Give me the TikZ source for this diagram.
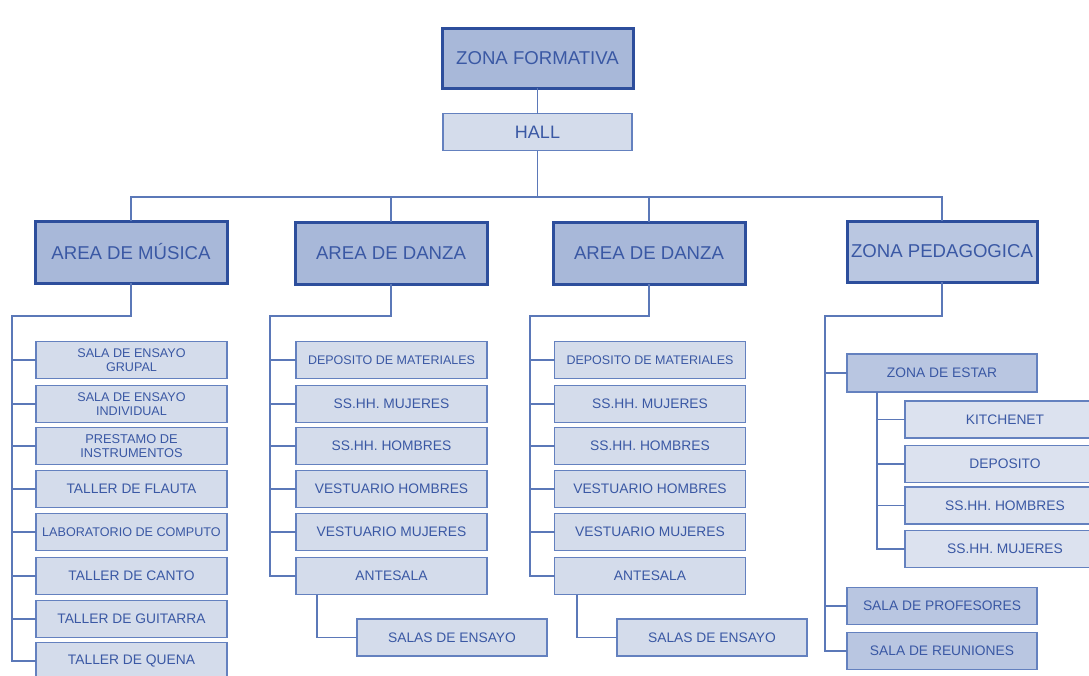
\documentclass[tikz,border=0pt]{standalone}
\usepackage{fontspec}
\setmainfont{Liberation Sans}
\definecolor{txt}{HTML}{3A58A4}
\definecolor{topfill}{HTML}{A8B8D9}
\definecolor{topline}{HTML}{2D4E9C}
\definecolor{zpfill}{HTML}{BAC7E1}
\definecolor{leaffill}{HTML}{D4DCEB}
\definecolor{leafline}{HTML}{6481BF}
\definecolor{midfill}{HTML}{B9C6E1}
\definecolor{subfill}{HTML}{DCE2EF}
\definecolor{connc}{HTML}{5B78B8}
\begin{document}
\begin{tikzpicture}[x=1pt,y=-1pt,
  base/.style={rectangle, inner sep=0pt, outer sep=0pt, align=center, text=txt,
    font=\fontsize{13.8}{16}\selectfont},
  topbox/.style={base, fill=topfill, draw=topline, line width=3pt,
    minimum width=191pt, minimum height=62pt, font=\fontsize{18.6}{21}\selectfont},
  zpbox/.style={topbox, fill=zpfill},
  hallbox/.style={base, fill=leaffill, draw=leafline, line width=1.4pt,
    minimum width=189pt, minimum height=37pt, font=\fontsize{18}{20}\selectfont},
  leaf/.style={base, fill=leaffill, draw=leafline, line width=1.4pt,
    minimum width=191pt, minimum height=37pt},
  twoline/.style={leaf, font=\fontsize{12.6}{14.5}\selectfont},
  midbox/.style={leaf, fill=midfill, minimum width=190pt},
  subbox/.style={leaf, fill=subfill, minimum width=200pt},
  conn/.style={draw=connc, line width=1.3pt}
]
\useasboundingbox (0,0) rectangle (1089,675);
\clip (0,0) rectangle (1089,675);
\fill[white] (0,0) rectangle (1089,675);

% top levels
\node[topbox, minimum height=60pt] (zf) at (537.5,58) {ZONA FORMATIVA};
\node[hallbox] (hall) at (537.5,132) {HALL};
\node[topbox, minimum width=192pt] (am) at (131,252) {AREA DE MÚSICA};
\node[topbox, minimum width=192pt] (ad1) at (391,253) {AREA DE DANZA};
\node[topbox, minimum width=192pt] (ad2) at (649,253) {AREA DE DANZA};
\node[zpbox, minimum width=190pt, minimum height=61pt] (zp) at (942,251.5) {ZONA PEDAGOGICA};

% musica
\node[twoline] (m1) at (131.5,360) {SALA DE ENSAYO\\GRUPAL};
\node[twoline] (m2) at (131.5,404) {SALA DE ENSAYO\\INDIVIDUAL};
\node[twoline, font=\fontsize{12.8}{14.5}\selectfont] (m3) at (131.5,446) {PRESTAMO DE\\INSTRUMENTOS};
\node[leaf] (m4) at (131.5,489) {TALLER DE FLAUTA};
\node[leaf, font=\fontsize{12.6}{14}\selectfont] (m5) at (131.5,532) {LABORATORIO DE COMPUTO};
\node[leaf] (m6) at (131.5,576) {TALLER DE CANTO};
\node[leaf] (m7) at (131.5,619) {TALLER DE GUITARRA};
\node[leaf] (m8) at (131.5,661) {TALLER DE QUENA};

% danza 1
\node[leaf, font=\fontsize{12.5}{14}\selectfont] (a1) at (391.5,360) {DEPOSITO DE MATERIALES};
\node[leaf] (a2) at (391.5,404) {SS.HH. MUJERES};
\node[leaf] (a3) at (391.5,446) {SS.HH. HOMBRES};
\node[leaf] (a4) at (391.5,489) {VESTUARIO HOMBRES};
\node[leaf] (a5) at (391.5,532) {VESTUARIO MUJERES};
\node[leaf] (a6) at (391.5,576) {ANTESALA};
\node[leaf, minimum width=190pt] (s1) at (452,637.5) {SALAS DE ENSAYO};

% danza 2
\node[leaf, font=\fontsize{12.5}{14}\selectfont] (b1) at (650,360) {DEPOSITO DE MATERIALES};
\node[leaf] (b2) at (650,404) {SS.HH. MUJERES};
\node[leaf] (b3) at (650,446) {SS.HH. HOMBRES};
\node[leaf] (b4) at (650,489) {VESTUARIO HOMBRES};
\node[leaf] (b5) at (650,532) {VESTUARIO MUJERES};
\node[leaf] (b6) at (650,576) {ANTESALA};
\node[leaf, minimum width=190pt] (s2) at (712,637.5) {SALAS DE ENSAYO};

% zona pedagogica
\node[midbox, minimum height=38pt] (ze) at (942,373) {ZONA DE ESTAR};
\node[subbox] (k1) at (1005,419.5) {KITCHENET};
\node[subbox] (k2) at (1005,464) {DEPOSITO};
\node[subbox] (k3) at (1005,505.5) {SS.HH. HOMBRES};
\node[subbox] (k4) at (1005,549) {SS.HH. MUJERES};
\node[midbox] (sp) at (942,606) {SALA DE PROFESORES};
\node[midbox] (sr) at (942,651) {SALA DE REUNIONES};

% connectors
\coordinate (bus) at (0,197);
\draw[conn] (zf.south) -- (zf.south |- hall.north);
\draw[conn] (hall.south) -- (hall.south |- bus);
\draw[conn] (am.north) -- (am.north |- bus) -- (zp.north |- bus) -- (zp.north);
\draw[conn] (ad1.north) -- (ad1.north |- bus);
\draw[conn] (ad2.north) -- (ad2.north |- bus);

\coordinate (mx) at (12,316);
\draw[conn] (am.south) |- (mx) |- (m8.west);
\foreach \n in {m1,m2,m3,m4,m5,m6,m7} \draw[conn] (\n.west) -- (\n.west -| mx);

\coordinate (d1x) at (270,316);
\draw[conn] (ad1.south) |- (d1x) |- (a6.west);
\foreach \n in {a1,a2,a3,a4,a5} \draw[conn] (\n.west) -- (\n.west -| d1x);
\coordinate (s1x) at (317,0);
\draw[conn] (a6.south -| s1x) |- (s1.west);

\coordinate (d2x) at (530,316);
\draw[conn] (ad2.south) |- (d2x) |- (b6.west);
\foreach \n in {b1,b2,b3,b4,b5} \draw[conn] (\n.west) -- (\n.west -| d2x);
\coordinate (s2x) at (577,0);
\draw[conn] (b6.south -| s2x) |- (s2.west);

\coordinate (px) at (825,316);
\draw[conn] (zp.south) |- (px) |- (sr.west);
\foreach \n in {ze,sp} \draw[conn] (\n.west) -- (\n.west -| px);
\coordinate (zx) at (877,0);
\draw[conn] (ze.south -| zx) |- (k4.west);
\foreach \n in {k1,k2,k3} \draw[conn] (\n.west) -- (\n.west -| zx);
\end{tikzpicture}
\end{document}
